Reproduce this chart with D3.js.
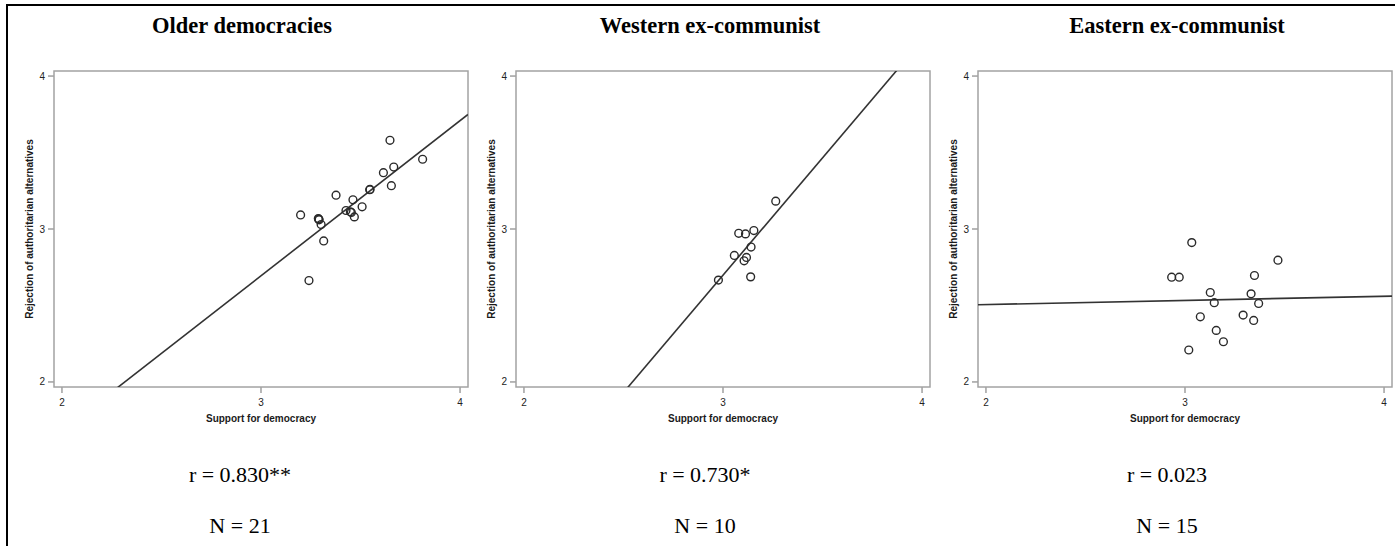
<!DOCTYPE html>
<html>
<head>
<meta charset="utf-8">
<script src="https://cdn.jsdelivr.net/npm/d3@7"></script>
<style>
  body { margin: 0; background: #fff; }
  svg { display: block; }
</style>
</head>
<body>
<div id="chart"></div>
<script>
var W = 1395, H = 546;

// Panel titles and stats
var titles = ["Older democracies", "Western ex-communist", "Eastern ex-communist"];
var rLabels = ["r = 0.830**", "r = 0.730*", "r = 0.023"];
var nLabels = ["N = 21", "N = 10", "N = 15"];

// Axis ticks
var xTicks = [2, 3, 4];
var yTicks = [2, 3, 4];

// Older democracies: support for democracy / rejection of authoritarian alternatives
var olderX = [3.648, 3.812, 3.667, 3.615, 3.655, 3.546, 3.548, 3.377, 3.462, 3.508, 3.427,
              3.454, 3.449, 3.469, 3.199, 3.290, 3.292, 3.288, 3.302, 3.315, 3.241];
var olderY = [3.580, 3.456, 3.405, 3.368, 3.283, 3.257, 3.259, 3.221, 3.191, 3.145, 3.121,
              3.108, 3.112, 3.079, 3.092, 3.064, 3.060, 3.068, 3.029, 2.922, 2.663];

// Western ex-communist
var westX = [3.265, 3.079, 3.113, 3.155, 3.141, 3.057, 3.118, 3.106, 3.139, 2.977];
var westY = [3.182, 2.972, 2.968, 2.990, 2.882, 2.827, 2.814, 2.792, 2.687, 2.666];

// Eastern ex-communist
var eastX = [3.034, 3.467, 2.933, 2.971, 3.349, 3.127, 3.332, 3.147, 3.370, 3.077,
             3.292, 3.345, 3.157, 3.193, 3.019];
var eastY = [2.911, 2.796, 2.685, 2.685, 2.696, 2.585, 2.576, 2.518, 2.513, 2.426,
             2.437, 2.402, 2.337, 2.263, 2.209];

// Fit lines (intercept, slope)
var fitIntercept = [-0.348, -1.904, 2.452];
var fitSlope = [1.014, 1.534, 0.027];

var panelX = [54, 516, 978];
var titleX = [242, 710, 1177];
var statX = [240, 705, 1167];
var panelTop = 71, pw = 414, ph = 316;

var xs = [olderX, westX, eastX];
var ys = [olderY, westY, eastY];

var svg = d3.select("#chart").append("svg")
    .attr("width", W)
    .attr("height", H);

//Outer frame (extends past the right and bottom edges)
svg.append("rect")
    .attr("x", 7).attr("y", 5)
    .attr("width", W + 20).attr("height", H + 20)
    .attr("fill", "none")
    .attr("stroke", "#000")
    .attr("stroke-width", 2);

var defs = svg.append("defs");

titles.forEach(function(t, i) {
    var xScale = d3.scaleLinear().domain([1.96, 4.04]).range([0, pw]);
    var yScale = d3.scaleLinear().domain([1.967, 4.033]).range([ph, 0]);

    //Title
    svg.append("text")
        .attr("x", titleX[i]).attr("y", 33)
        .attr("text-anchor", "middle")
        .style("font-family", "'Liberation Serif', 'Times New Roman', serif")
        .style("font-weight", "bold")
        .style("font-size", "22.5px")
        .text(t);

    var g = svg.append("g")
        .attr("transform", "translate(" + panelX[i] + "," + panelTop + ")");

    defs.append("clipPath").attr("id", "clip" + i)
        .append("rect").attr("width", pw).attr("height", ph);

    //Y ticks
    g.selectAll(".ytick").data(yTicks).enter().append("line")
        .attr("x1", -6).attr("x2", 0)
        .attr("y1", function(d) { return yScale(d); })
        .attr("y2", function(d) { return yScale(d); })
        .attr("stroke", "#888").attr("stroke-width", 1.2);
    g.selectAll(".ylab").data(yTicks).enter().append("text")
        .attr("x", -9)
        .attr("y", function(d) { return yScale(d); })
        .attr("text-anchor", "end")
        .attr("dominant-baseline", "central")
        .style("font-family", "'Liberation Sans', Arial, sans-serif")
        .style("font-size", "10px")
        .style("fill", "#222")
        .text(function(d) { return d; });

    //X ticks
    g.selectAll(".xtick").data(xTicks).enter().append("line")
        .attr("y1", ph).attr("y2", ph + 6)
        .attr("x1", function(d) { return xScale(d); })
        .attr("x2", function(d) { return xScale(d); })
        .attr("stroke", "#888").attr("stroke-width", 1.2);
    g.selectAll(".xlab").data(xTicks).enter().append("text")
        .attr("y", ph + 19)
        .attr("x", function(d) { return xScale(d); })
        .attr("text-anchor", "middle")
        .style("font-family", "'Liberation Sans', Arial, sans-serif")
        .style("font-size", "10px")
        .style("fill", "#222")
        .text(function(d) { return d; });

    //Plot frame
    g.append("rect")
        .attr("width", pw).attr("height", ph)
        .attr("fill", "none")
        .attr("stroke", "#a3a3a3")
        .attr("stroke-width", 1.5);

    //Axis titles
    g.append("text")
        .attr("x", pw / 2).attr("y", ph + 35)
        .attr("text-anchor", "middle")
        .style("font-family", "'Liberation Sans', Arial, sans-serif")
        .style("font-weight", "bold")
        .style("font-size", "10px")
        .style("fill", "#1a1a1a")
        .text("Support for democracy");
    g.append("text")
        .attr("transform", "translate(-21," + (ph / 2) + ") rotate(-90)")
        .attr("text-anchor", "middle")
        .style("font-family", "'Liberation Sans', Arial, sans-serif")
        .style("font-weight", "bold")
        .style("font-size", "10px")
        .style("fill", "#1a1a1a")
        .text("Rejection of authoritarian alternatives");

    //Fit line
    var x0 = xScale.domain()[0], x1 = xScale.domain()[1];
    g.append("line")
        .attr("clip-path", "url(#clip" + i + ")")
        .attr("x1", xScale(x0))
        .attr("y1", yScale(fitIntercept[i] + fitSlope[i] * x0))
        .attr("x2", xScale(x1))
        .attr("y2", yScale(fitIntercept[i] + fitSlope[i] * x1))
        .attr("stroke", "#333")
        .attr("stroke-width", 1.6);

    //Points
    g.selectAll(".pt").data(xs[i]).enter().append("circle")
        .attr("cx", function(d) { return xScale(d); })
        .attr("cy", function(d, j) { return yScale(ys[i][j]); })
        .attr("r", 3.9)
        .attr("fill", "none")
        .attr("stroke", "#2a2a2a")
        .attr("stroke-width", 1.4);

    //Stats
    svg.append("text")
        .attr("x", statX[i]).attr("y", 482)
        .attr("text-anchor", "middle")
        .style("font-family", "'Liberation Serif', 'Times New Roman', serif")
        .style("font-size", "22px")
        .text(rLabels[i]);
    svg.append("text")
        .attr("x", statX[i]).attr("y", 533)
        .attr("text-anchor", "middle")
        .style("font-family", "'Liberation Serif', 'Times New Roman', serif")
        .style("font-size", "22px")
        .text(nLabels[i]);
});
</script>
</body>
</html>
